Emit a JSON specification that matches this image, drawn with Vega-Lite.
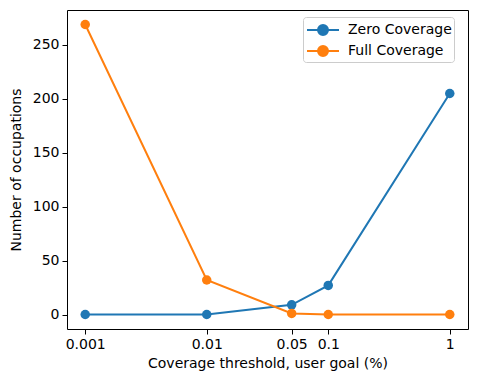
{
  "$schema": "https://vega.github.io/schema/vega-lite/v6.json",
  "width": 401,
  "height": 319,
  "autosize": {"type": "none"},
  "padding": {"left": 67, "top": 10, "right": 11, "bottom": 54},
  "config": {
    "font": "DejaVu Sans",
    "view": {"stroke": "black", "strokeWidth": 1},
    "axis": {
      "grid": false,
      "domain": false,
      "tickColor": "black",
      "tickSize": 5,
      "labelColor": "black",
      "labelFontSize": 14,
      "titleColor": "black",
      "titleFontSize": 14,
      "titleFontWeight": "normal",
      "labelPadding": 3
    }
  },
  "data": {
    "values": [
      {"series": "Zero Coverage", "threshold": 0.001, "count": 0},
      {"series": "Zero Coverage", "threshold": 0.01, "count": 0},
      {"series": "Zero Coverage", "threshold": 0.05, "count": 9},
      {"series": "Zero Coverage", "threshold": 0.1, "count": 27},
      {"series": "Zero Coverage", "threshold": 1, "count": 205},
      {"series": "Full Coverage", "threshold": 0.001, "count": 269},
      {"series": "Full Coverage", "threshold": 0.01, "count": 32},
      {"series": "Full Coverage", "threshold": 0.05, "count": 1},
      {"series": "Full Coverage", "threshold": 0.1, "count": 0},
      {"series": "Full Coverage", "threshold": 1, "count": 0}
    ]
  },
  "encoding": {
    "x": {
      "field": "threshold",
      "type": "quantitative",
      "scale": {"type": "log", "domain": [0.000708, 1.4125], "nice": false},
      "axis": {
        "values": [0.001, 0.01, 0.05, 0.1, 1],
        "format": "~g",
        "title": "Coverage threshold, user goal (%)",
        "titlePadding": 5
      }
    },
    "y": {
      "field": "count",
      "type": "quantitative",
      "scale": {"domain": [-13.45, 282.45], "nice": false, "zero": false},
      "axis": {
        "values": [0, 50, 100, 150, 200, 250],
        "title": "Number of occupations",
        "titlePadding": 9
      }
    },
    "color": {
      "field": "series",
      "type": "nominal",
      "sort": ["Zero Coverage", "Full Coverage"],
      "scale": {"domain": ["Zero Coverage", "Full Coverage"], "range": ["#1f77b4", "#ff7f0e"]},
      "legend": {
        "title": null,
        "orient": "none",
        "legendX": 236,
        "legendY": 7,
        "symbolType": "M-0.9,0H2.3M0.2,0A0.5,0.5 0 1,1 1.2,0A0.5,0.5 0 1,1 0.2,0Z",
        "symbolSize": 400,
        "symbolStrokeWidth": 2,
        "symbolOpacity": 1,
        "labelFontSize": 14,
        "labelColor": "black",
        "labelOffset": 21,
        "strokeColor": "#cccccc",
        "fillColor": "white",
        "padding": 2,
        "cornerRadius": 3,
        "rowPadding": 1
      }
    }
  },
  "layer": [
    {"mark": {"type": "line", "strokeWidth": 2}},
    {"mark": {"type": "point", "filled": true, "size": 90, "opacity": 1}}
  ]
}
